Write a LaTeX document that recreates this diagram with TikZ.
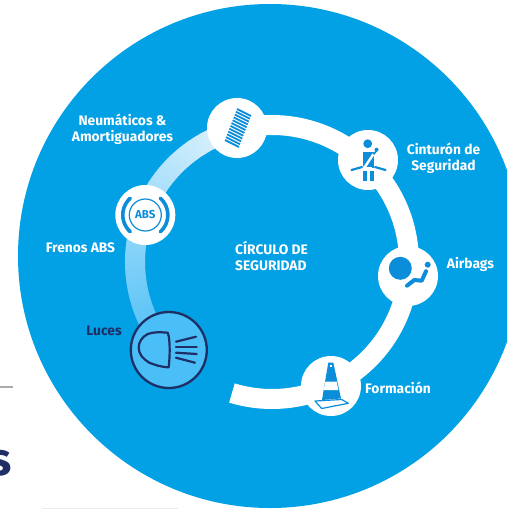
\documentclass[tikz,border=0pt]{standalone}
\usepackage{fontspec}
\setmainfont{Fira Sans}
\definecolor{bigblue}{HTML}{02A0E4}
\definecolor{iconblue}{HTML}{0B8DD9}
\definecolor{lampfill}{HTML}{4ABEF6}
\definecolor{navy}{HTML}{1F2F66}
\definecolor{ringstart}{HTML}{E4F4FD}
\tikzset{
  lab/.style={font=\bfseries\fontsize{13.8}{15.5}\selectfont,text=white,inner sep=0pt,align=center},
  iconcirc/.style={circle,fill=white,minimum size=60pt,inner sep=0pt},
  iconline/.style={draw=iconblue,line cap=round,line join=round},
  lampline/.style={draw=navy,line width=2.2pt,line cap=round,line join=round}
}
\begin{document}
\begin{tikzpicture}[x=1pt,y=-1pt]
\useasboundingbox (0,0) rectangle (507,509);
\clip (0,0) rectangle (507,509);
\fill[white] (0,0) rectangle (507,509);
% page remnants
\draw[line width=2.5pt,draw=black!33] (0,387) -- (13,387);
\draw[line width=0.8pt,draw=black!8] (42,508) -- (178,508);
\node[anchor=base east,inner sep=0pt,text=navy,font=\bfseries\fontsize{46}{46}\selectfont] (plural) at (11.5,475) {s};
% big disc
\node[circle,fill=bigblue,minimum size=504pt,inner sep=0pt] (disc) at (270,256) {};
% ring: white part
\draw[white,line width=20pt,line cap=butt] plot[domain=-105:107,samples=120] ({272+137*cos(\x)},{262+137*sin(\x)});
% ring: fading part
\foreach \a in {0,1,...,115}{
  \pgfmathsetmacro{\mixv}{100*(\a/115)}
  \colorlet{segc}{lampfill!\mixv!ringstart}
  \draw[segc,line width=20pt,line cap=butt] ({272+137*cos(-104-\a)},{262+137*sin(-104-\a)}) -- ({272+137*cos(-105.3-\a)},{262+137*sin(-105.3-\a)});
}
% icon discs
\node[iconcirc] (neu) at (237,128) {};
\node[iconcirc] (abs) at (145.3,215) {};
\node[iconcirc] (cin) at (368,160) {};
\node[iconcirc] (air) at (408,276) {};
\node[iconcirc] (for) at (331,386) {};
\node[circle,draw=navy,line width=2.3pt,fill=lampfill,minimum size=76pt,inner sep=0pt] (luc) at (168.8,350) {};
% spring
\foreach \i in {0,1,...,11}{
  \pgfmathsetmacro{\sx}{237-12*\i/11}
  \pgfmathsetmacro{\sy}{109+31*\i/11}
  \draw[iconline,line width=1.8pt,line cap=butt] (\sx,\sy) -- ++(14,7);
}
% ABS
\node[circle,draw=iconblue,line width=1.2pt,minimum size=32pt,inner sep=0pt,text=iconblue,font=\bfseries\fontsize{11.5}{12}\selectfont] (abstext) at (145.3,215) {ABS};
\draw[iconline,line width=3.6pt] plot[domain=132:228,samples=30] ({145.3+22.5*cos(\x)},{215+22.5*sin(\x)});
\draw[iconline,line width=3.6pt] plot[domain=-48:48,samples=30] ({145.3+22.5*cos(\x)},{215+22.5*sin(\x)});
% belt figure
\fill[iconblue] (367.7,143.7) circle (4.4);
\fill[iconblue] (362.7,151.5) rectangle (374.3,181);
\fill[white] (362,168) rectangle (375,171);
\fill[white] (367.3,171) rectangle (369.7,181.5);
\draw[white,line width=2.4pt] (362.5,167.5) -- (364.5,167.5) -- (373.5,154);
\draw[white,line width=2pt] (364.5,168) -- (372,168);
\draw[iconline,line width=2.2pt] (351.5,170) -- (362,167);
\draw[iconline,line width=2.2pt] (375,167) -- (385.5,170);
\draw[iconline,line width=1.6pt] (374,154) -- (376.7,150.5);
\fill[iconblue] (376.5,149.7) circle (2);
% airbag
\fill[iconblue] (400.3,268.3) circle (11.5);
\fill[iconblue] (427.7,264.7) circle (3);
\draw[iconline,line width=4pt] (426,271.3) -- (421.7,280.7) -- (414.3,280) -- (407,285.7);
% cone
\draw[iconline,line width=1.2pt,fill=white] (315,401) -- (321.7,408.5) -- (348.3,403.3) -- (341.7,399.5) -- cycle;
\fill[iconblue] (328.3,362.5) -- (333.3,362.5) -- (341,398.5) -- (322,400) -- cycle;
\fill[white] (325.4,381.7) -- (336.7,381.7) -- (338.4,390) -- (323.6,390) -- cycle;
\fill[white] (329.6,365) rectangle (332,366.5);
% lamp
\draw[lampline] (167.7,332.7) .. controls (160,332) and (153,332) .. (147.7,334)
  .. controls (142,337) and (138.7,342) .. (138.7,347.7)
  .. controls (138.7,354) and (143,359) .. (149.3,362.7)
  .. controls (155,365) and (161,367) .. (168.7,367.3)
  .. controls (170,355) and (170,344) .. (168.7,336) -- cycle;
\draw[lampline] (176,341.7) -- (196,336.7);
\draw[lampline] (176,346.7) -- (196.7,346.7);
\draw[lampline] (176,352.7) -- (196.7,354);
\draw[lampline] (176,357.7) -- (195,362.7);
% labels
\node[lab] (t1) at (122.5,129.5) {Neumáticos \&\\Amortiguadores};
\node[lab] (t2) at (80.5,247.5) {Frenos ABS};
\node[lab,align=left,anchor=west] (t3) at (235,256) {CÍRCULO DE\\SEGURIDAD};
\node[lab] (t4) at (443.5,158.5) {Cinturón de\\Seguridad};
\node[lab] (t5) at (470.5,264.5) {Airbags};
\node[lab,text=navy] (t6) at (104,331) {Luces};
\node[lab] (t7) at (398,388) {Formación};
\end{tikzpicture}
\end{document}
